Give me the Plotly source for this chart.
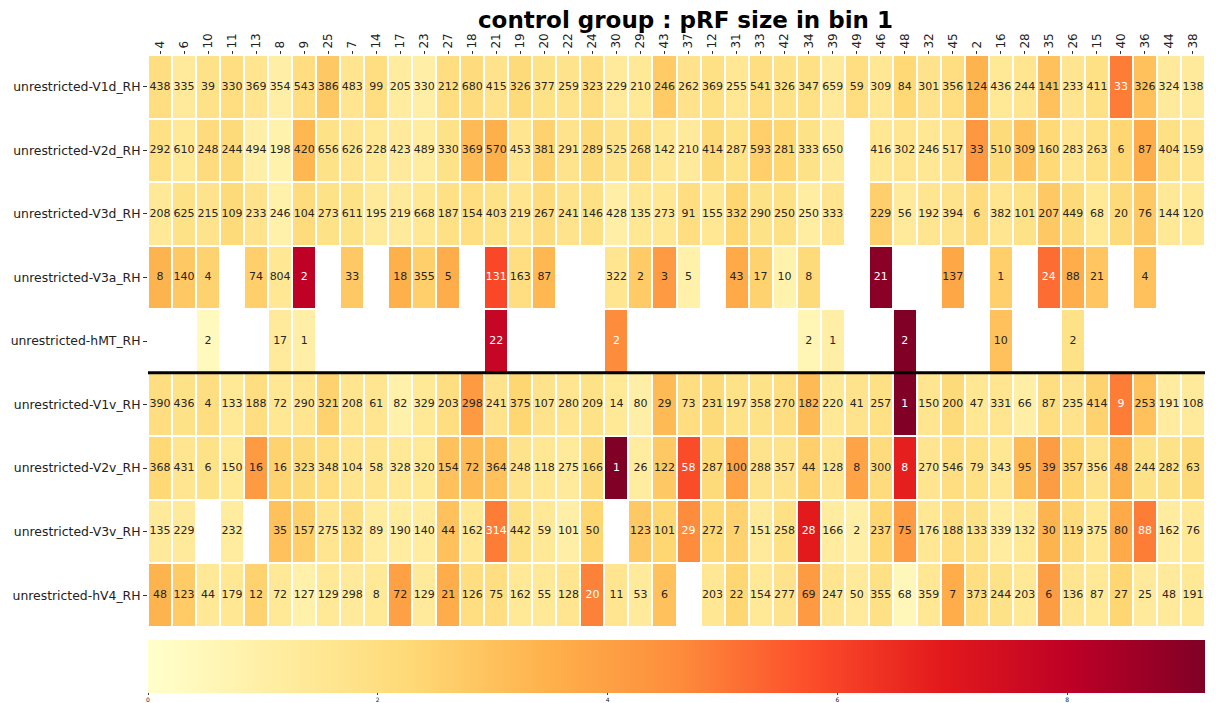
import numpy as np
import plotly.graph_objects as go

NA = np.nan

# visual-area rows (top to bottom) and subject columns (left to right)
rows = [
    "unrestricted-V1d_RH", "unrestricted-V2d_RH", "unrestricted-V3d_RH",
    "unrestricted-V3a_RH", "unrestricted-hMT_RH",
    "unrestricted-V1v_RH", "unrestricted-V2v_RH", "unrestricted-V3v_RH",
    "unrestricted-hV4_RH",
]
subjects = ["4", "6", "10", "11", "13", "8", "9", "25", "7", "14", "17", "23", "27", "18", "21",
            "19", "20", "22", "24", "30", "29", "43", "37", "12", "31", "33", "42", "34", "39", "49",
            "46", "48", "32", "45", "2", "16", "28", "35", "26", "15", "40", "36", "44", "38"]

# voxel counts shown in each cell
count_V1d = [438, 335, 39, 330, 369, 354, 543, 386, 483, 99, 205, 330, 212, 680, 415,
             326, 377, 259, 323, 229, 210, 246, 262, 369, 255, 541, 326, 347, 659, 59,
             309, 84, 301, 356, 124, 436, 244, 141, 233, 411, 33, 326, 324, 138]
count_V2d = [292, 610, 248, 244, 494, 198, 420, 656, 626, 228, 423, 489, 330, 369, 570,
             453, 381, 291, 289, 525, 268, 142, 210, 414, 287, 593, 281, 333, 650, NA,
             416, 302, 246, 517, 33, 510, 309, 160, 283, 263, 6, 87, 404, 159]
count_V3d = [208, 625, 215, 109, 233, 246, 104, 273, 611, 195, 219, 668, 187, 154, 403,
             219, 267, 241, 146, 428, 135, 273, 91, 155, 332, 290, 250, 250, 333, NA,
             229, 56, 192, 394, 6, 382, 101, 207, 449, 68, 20, 76, 144, 120]
count_V3a = [8, 140, 4, NA, 74, 804, 2, NA, 33, NA, 18, 355, 5, NA, 131,
             163, 87, NA, NA, 322, 2, 3, 5, NA, 43, 17, 10, 8, NA, NA,
             21, NA, NA, 137, NA, 1, NA, 24, 88, 21, NA, 4, NA, NA]
count_hMT = [NA, NA, 2, NA, NA, 17, 1, NA, NA, NA, NA, NA, NA, NA, 22,
             NA, NA, NA, NA, 2, NA, NA, NA, NA, NA, NA, NA, 2, 1, NA,
             NA, 2, NA, NA, NA, 10, NA, NA, 2, NA, NA, NA, NA, NA]
count_V1v = [390, 436, 4, 133, 188, 72, 290, 321, 208, 61, 82, 329, 203, 298, 241,
             375, 107, 280, 209, 14, 80, 29, 73, 231, 197, 358, 270, 182, 220, 41,
             257, 1, 150, 200, 47, 331, 66, 87, 235, 414, 9, 253, 191, 108]
count_V2v = [368, 431, 6, 150, 16, 16, 323, 348, 104, 58, 328, 320, 154, 72, 364,
             248, 118, 275, 166, 1, 26, 122, 58, 287, 100, 288, 357, 44, 128, 8,
             300, 8, 270, 546, 79, 343, 95, 39, 357, 356, 48, 244, 282, 63]
count_V3v = [135, 229, NA, 232, NA, 35, 157, 275, 132, 89, 190, 140, 44, 162, 314,
             442, 59, 101, 50, NA, 123, 101, 29, 272, 7, 151, 258, 28, 166, 2,
             237, 75, 176, 188, 133, 339, 132, 30, 119, 375, 80, 88, 162, 76]
count_hV4 = [48, 123, 44, 179, 12, 72, 127, 129, 298, 8, 72, 129, 21, 126, 75,
             162, 55, 128, 20, 11, 53, 6, NA, 203, 22, 154, 277, 69, 247, 50,
             355, 68, 359, 7, 373, 244, 203, 6, 136, 87, 27, 25, 48, 191]

# mean pRF size per cell (colour)
size_V1d = [2.0, 1.3, 1.8, 2.0, 1.6, 1.0, 2.0, 2.8, 1.6, 2.0, 1.2, 1.0, 2.0, 2.1, 1.7,
            2.2, 1.8, 1.7, 2.0, 1.3, 1.4, 2.7, 1.7, 1.9, 1.5, 2.0, 1.8, 1.9, 1.3, 2.0,
            1.5, 2.3, 1.7, 2.0, 3.4, 1.4, 1.6, 3.0, 1.6, 1.9, 4.9, 3.0, 1.3, 1.3]
size_V2d = [1.9, 1.4, 2.1, 2.2, 1.0, 0.8, 3.3, 1.8, 1.6, 1.4, 1.3, 1.2, 1.8, 3.2, 3.5,
            1.6, 2.5, 1.7, 2.2, 1.7, 2.0, 1.5, 1.3, 2.2, 1.8, 2.6, 2.4, 1.8, 1.3, NA,
            1.5, 1.6, 1.5, 1.7, 4.3, 2.2, 3.0, 2.3, 1.6, 1.9, 2.4, 3.6, 1.9, 1.6]
size_V3d = [1.4, 1.8, 1.7, 2.2, 1.7, 0.9, 2.1, 1.8, 1.8, 1.3, 1.3, 1.5, 1.9, 2.0, 1.8,
            1.6, 2.1, 1.7, 1.9, 1.0, 1.5, 1.5, 2.0, 1.5, 2.4, 1.8, 1.9, 1.1, 1.6, NA,
            2.6, 1.3, 1.6, 1.7, 2.1, 1.6, 1.8, 2.8, 2.2, 1.4, 2.2, 2.8, 1.4, 1.4]
size_V3a = [3.4, 2.8, 2.5, NA, 2.6, 1.5, 8.0, NA, 2.8, NA, 3.5, 2.6, 3.6, NA, 5.9,
            2.0, 3.3, NA, NA, 1.6, 2.7, 4.2, 0.9, NA, 3.7, 2.5, 0.8, 2.2, NA, NA,
            9.0, NA, NA, 3.8, NA, 2.6, NA, 5.2, 3.6, 2.9, NA, 3.0, NA, NA]
size_hMT = [NA, NA, 0.4, NA, NA, 1.3, 1.0, NA, NA, NA, NA, NA, NA, NA, 7.8,
            NA, NA, NA, NA, 4.6, NA, NA, NA, NA, NA, NA, NA, 0.6, 1.0, NA,
            NA, 9.2, NA, NA, NA, 3.0, NA, NA, 1.8, NA, NA, NA, NA, NA]
size_V1v = [2.0, 1.8, 2.0, 1.4, 2.0, 1.5, 1.6, 2.5, 1.6, 1.6, 0.9, 1.4, 2.0, 4.2, 1.7,
            2.4, 1.7, 1.6, 1.8, 1.4, 1.0, 3.2, 2.0, 2.2, 1.8, 1.8, 2.0, 3.2, 1.4, 1.7,
            1.9, 9.2, 1.6, 2.2, 1.5, 1.6, 1.0, 2.0, 1.7, 2.5, 4.9, 3.0, 1.2, 1.3]
size_V2v = [2.3, 1.6, 1.8, 1.4, 4.2, 2.5, 2.2, 2.0, 1.6, 1.6, 1.4, 1.4, 3.0, 3.2, 3.0,
            1.7, 1.5, 1.3, 2.2, 9.2, 1.2, 2.8, 5.8, 2.2, 3.9, 1.7, 1.7, 2.6, 1.6, 3.9,
            2.1, 6.8, 1.6, 2.0, 1.9, 1.5, 3.2, 4.1, 2.4, 1.7, 3.5, 1.8, 1.8, 2.2]
size_V3v = [1.3, 1.3, NA, 1.2, NA, 3.0, 2.6, 1.6, 2.0, 1.2, 1.2, 1.2, 3.0, 1.5, 4.9,
            1.9, 1.4, 1.0, 2.4, NA, 2.8, 2.4, 4.6, 2.3, 2.5, 1.3, 1.9, 6.9, 1.2, 1.0,
            2.4, 4.2, 1.5, 2.0, 1.8, 1.2, 1.4, 3.4, 2.1, 1.5, 3.7, 4.9, 1.2, 1.4]
size_hV4 = [3.4, 2.7, 1.4, 1.5, 2.5, 1.4, 0.9, 1.4, 1.3, 1.4, 4.0, 1.3, 3.6, 2.0, 2.0,
            1.4, 1.4, 1.6, 4.8, 1.6, 1.3, 3.0, NA, 1.5, 2.4, 1.4, 1.7, 4.2, 1.6, 1.3,
            1.9, 0.5, 1.5, 3.6, 2.0, 1.8, 1.4, 4.1, 1.6, 1.4, 2.4, 1.3, 1.3, 1.4]

counts = np.array([count_V1d, count_V2d, count_V3d, count_V3a, count_hMT,
                   count_V1v, count_V2v, count_V3v, count_hV4], dtype=float)
sizes = np.array([size_V1d, size_V2d, size_V3d, size_V3a, size_hMT,
                  size_V1v, size_V2v, size_V3v, size_hV4], dtype=float)

zmin, zmax = 0.0, 9.2
ylorrd = ["#ffffcc", "#ffeda0", "#fed976", "#feb24c", "#fd8d3c",
          "#fc4e2a", "#e31a1c", "#bd0026", "#800026"]
colorscale = [[i / (len(ylorrd) - 1), c] for i, c in enumerate(ylorrd)]

fig = go.Figure()
fig.add_trace(go.Heatmap(
    z=sizes, x=subjects, y=rows,
    zmin=zmin, zmax=zmax, colorscale=colorscale,
    xgap=2, ygap=2, hoverongaps=False,
    colorbar=dict(
        orientation="h", x=0.5, xanchor="center", len=1.0, lenmode="fraction",
        y=-13 / 572, yanchor="top", thickness=53, thicknessmode="pixels",
        xpad=0, ypad=0, outlinewidth=0,
        tickvals=[0, 2, 4, 6, 8], ticks="outside", ticklen=2, tickcolor="#444",
        tickfont=dict(size=6, family="DejaVu Sans", color="#222"),
    ),
))

# cell annotations: counts, white on dark cells
tx, ty, tt, tc = [], [], [], []
for r, rname in enumerate(rows):
    for c, sname in enumerate(subjects):
        v = counts[r, c]
        if np.isnan(v):
            continue
        tx.append(sname)
        ty.append(rname)
        tt.append(str(int(v)))
        tc.append("white" if sizes[r, c] > 4.4 else "#262626")
fig.add_trace(go.Scatter(
    x=tx, y=ty, text=tt, mode="text", hoverinfo="skip", showlegend=False,
    textfont=dict(size=11, family="DejaVu Sans", color=tc),
))

# separator between dorsal and ventral groups
fig.add_shape(type="line", xref="paper", x0=0, x1=1, yref="y", y0=4.5, y1=4.5,
              line=dict(color="black", width=3))

fig.update_layout(
    width=1216, height=703,
    margin=dict(l=148, r=11, t=55, b=76, autoexpand=False),
    plot_bgcolor="white", paper_bgcolor="white",
    title=dict(text="<b>control group : pRF size in bin 1</b>", x=0.5637, xanchor="center",
               y=0.972, yanchor="middle",
               font=dict(size=23, family="DejaVu Sans", color="black")),
    xaxis=dict(type="category", side="top", tickangle=-90, showgrid=False, zeroline=False,
               range=[-0.5, len(subjects) - 0.5], automargin=False,
               ticks="outside", ticklen=3, tickcolor="#333",
               tickfont=dict(size=12, family="DejaVu Sans", color="#222"),
               categoryorder="array", categoryarray=subjects),
    yaxis=dict(type="category", showgrid=False, zeroline=False,
               range=[len(rows) - 0.5, -0.5], automargin=False,
               ticks="outside", ticklen=4, tickcolor="#333",
               tickfont=dict(size=12.4, family="DejaVu Sans", color="#222"),
               categoryorder="array", categoryarray=rows),
)

fig.write_html("out.html")
